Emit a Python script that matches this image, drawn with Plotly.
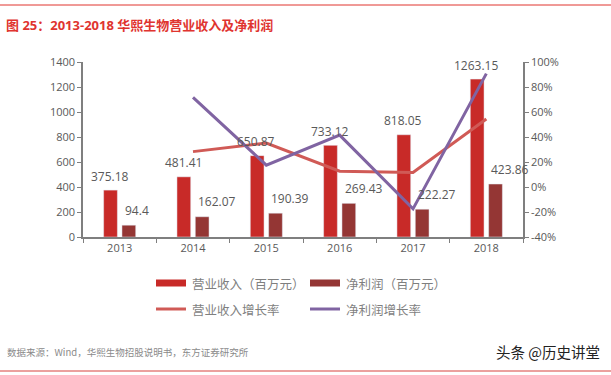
import plotly.graph_objects as go

years = ["2013", "2014", "2015", "2016", "2017", "2018"]
revenue = [375.18, 481.41, 650.87, 733.12, 818.05, 1263.15]
net_profit = [94.4, 162.07, 190.39, 269.43, 222.27, 423.86]
revenue_growth = [None, 28.3, 35.2, 12.6, 11.6, 54.4]
profit_growth = [None, 71.7, 17.5, 41.5, -17.5, 90.7]

left_ticks = [0, 200, 400, 600, 800, 1000, 1200, 1400]
right_ticks = [-40, -20, 0, 20, 40, 60, 80, 100]
right_tick_text = [f"{v}%" for v in right_ticks]

C_REV = "#C82A28"
C_NP = "#943634"
C_REVG = "#D05A56"
C_NPG = "#8064A2"
GREY = "#595959"
FONT = "Noto Sans CJK SC, Noto Sans, sans-serif"
TITLEFONT = "Open Sans, Noto Sans CJK SC, sans-serif"
NUMFONT = "Open Sans, sans-serif"

fig = go.Figure()
fig.add_bar(x=years, y=revenue, name="营业收入（百万元）", marker_color=C_REV,
            showlegend=False)
fig.add_bar(x=years, y=net_profit, name="净利润（百万元）", marker_color=C_NP,
            showlegend=False)
fig.add_scatter(x=years, y=revenue_growth, yaxis="y2", mode="lines",
                line=dict(color=C_REVG, width=3), name="营业收入增长率",
                showlegend=False, cliponaxis=False)
fig.add_scatter(x=years, y=profit_growth, yaxis="y2", mode="lines",
                line=dict(color=C_NPG, width=3), name="净利润增长率",
                showlegend=False, cliponaxis=False)

# data labels (placed through the axes; x = category index)
for i, v in enumerate(revenue):
    fig.add_annotation(x=i, y=v, xref="x", yref="y", text=f"{v:g}",
                       showarrow=False, xanchor="center", yanchor="middle",
                       xshift=-10, yshift=14,
                       font=dict(size=12, color=GREY, family=NUMFONT))
for i, v in enumerate(net_profit):
    fig.add_annotation(x=i, y=v, xref="x", yref="y", text=f"{v:g}",
                       showarrow=False, xanchor="left", yanchor="middle",
                       xshift=3, yshift=15,
                       font=dict(size=12, color=GREY, family=NUMFONT))

fig.update_layout(
    width=611, height=375,
    margin=dict(l=83, r=88, t=62, b=138),
    paper_bgcolor="white", plot_bgcolor="white",
    barmode="group", bargap=0.5, bargroupgap=0.25,
    font=dict(family=FONT, color=GREY, size=11),
    xaxis=dict(type="category", range=[-0.5, len(years) - 0.5],
               showline=True, linecolor="#7f7f7f", linewidth=1.5,
               ticks="outside", ticklen=4, tickcolor="#7f7f7f",
               tickson="boundaries", showgrid=False,
               tickfont=dict(size=11, color=GREY, family=NUMFONT)),
    yaxis=dict(range=[0, 1400], tickvals=left_ticks, showgrid=False,
               showline=True, linecolor="#7f7f7f", linewidth=1.5,
               ticks="outside", ticklen=4, tickcolor="#7f7f7f", zeroline=False,
               tickfont=dict(size=11, color=GREY, family=NUMFONT)),
    yaxis2=dict(range=[-40, 100], tickvals=right_ticks, ticktext=right_tick_text,
                overlaying="y", side="right", showgrid=False,
                showline=True, linecolor="#7f7f7f", linewidth=1.5,
                ticks="outside", ticklen=4, tickcolor="#7f7f7f", zeroline=False,
                tickfont=dict(size=11, color=GREY, family=NUMFONT)),
)

def px(x):
    return (x - 83) / 440
def py(y):
    return (237 - y) / 175

# title and frame lines
fig.add_shape(type="line", xref="paper", yref="paper", x0=px(0), x1=px(611),
              y0=py(5), y1=py(5), line=dict(color="#E0342F", width=1))
fig.add_shape(type="line", xref="paper", yref="paper", x0=px(0), x1=px(611),
              y0=py(371), y1=py(371), line=dict(color="#D7433E", width=1))
fig.add_annotation(text="<b>图 25：2013-2018 华熙生物营业收入及净利润</b>",
                   xref="paper", yref="paper", x=px(4), y=py(25),
                   xanchor="left", yanchor="middle", showarrow=False,
                   font=dict(size=13, color="#E0342F", family=TITLEFONT))
fig.add_annotation(text="数据来源：Wind，华熙生物招股说明书，东方证券研究所",
                   xref="paper", yref="paper", x=px(5), y=py(352),
                   xanchor="left", yanchor="middle", showarrow=False,
                   font=dict(size=9.5, color="#8a8a8a", family=FONT))
fig.add_annotation(text="头条 @历史讲堂",
                   xref="paper", yref="paper", x=px(602), y=py(351),
                   xanchor="right", yanchor="middle", showarrow=False,
                   font=dict(size=14.5, color="#222222", family=FONT))

# manual legend
legend_items = [
    ("rect", C_REV, "营业收入（百万元）", 156, 283),
    ("rect", C_NP, "净利润（百万元）", 310, 283),
    ("line", C_REVG, "营业收入增长率", 156, 309),
    ("line", C_NPG, "净利润增长率", 310, 309),
]
for kind, col, label, x0, yc in legend_items:
    if kind == "rect":
        fig.add_shape(type="rect", xref="paper", yref="paper",
                      x0=px(x0), x1=px(x0 + 30), y0=py(yc + 3.5), y1=py(yc - 3.5),
                      fillcolor=col, line=dict(width=0))
    else:
        fig.add_shape(type="line", xref="paper", yref="paper",
                      x0=px(x0), x1=px(x0 + 30), y0=py(yc), y1=py(yc),
                      line=dict(color=col, width=3))
    fig.add_annotation(text=label, xref="paper", yref="paper",
                       x=px(x0 + 34), y=py(yc), xanchor="left", yanchor="middle",
                       showarrow=False, font=dict(size=12.5, color="#7f7f7f", family=FONT))

fig.write_html("out.html", config={"displayModeBar": False},
               post_script="document.body.style.margin='0';document.body.style.overflow='hidden';")
